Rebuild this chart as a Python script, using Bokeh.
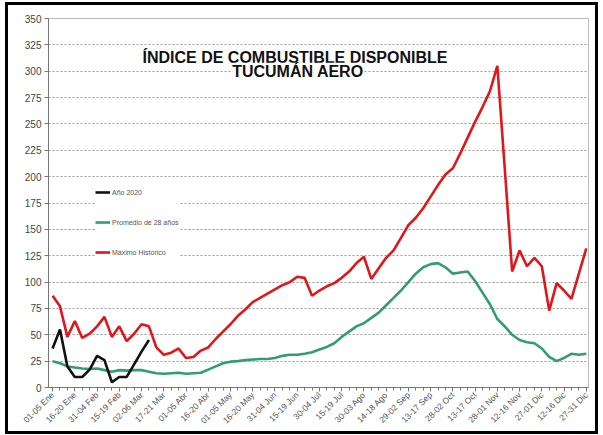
from math import pi
from bokeh.plotting import figure
from bokeh.models import Range1d, FixedTicker, Legend, LegendItem, Label
from bokeh.embed import file_html
from bokeh.resources import INLINE

# ---- data (pentads of the year, 73 points) ----
tick_labels = ["01-05 Ene", "16-20 Ene", "31-04 Feb", "15-19 Feb", "02-06 Mar",
               "17-21 Mar", "01-05 Abr", "16-20 Abr", "01-05 May", "16-20 May",
               "31-04 Jun", "15-19 Jun", "30-04 Jul", "15-19 Jul", "30-03 Ago",
               "14-18 Ago", "29-02 Sep", "13-17 Sep", "28-02 Oct", "13-17 Oct",
               "28-01 Nov", "12-16 Nov", "27-01 Dic", "12-16 Dic", "27-31 Dic"]

maximo_historico = [87, 77, 48, 63, 47, 51, 58, 67, 48, 58, 44, 51, 60, 58, 38, 31, 33, 37,
                    28, 29, 35, 38, 46, 53, 60, 68, 74, 81, 85, 89, 93, 97, 100, 105, 104, 87,
                    92, 96, 99, 104, 110, 118, 124, 103, 113, 123, 130, 142, 154, 161, 170, 181,
                    192, 202, 208, 222, 237, 252, 266, 281, 305, 208, 110, 130, 115, 123, 115,
                    73, 99, 92, 84, 108, 132]

promedio_28 = [25, 23, 20, 19, 18, 17.5, 18, 16.5, 15, 16.5, 16, 16.5, 16.5, 15, 13.5, 13,
               13.5, 14, 13, 13.5, 14, 17, 20, 23, 24.5, 25, 26, 26.5, 27, 27, 28, 30, 31, 31,
               32, 33.5, 36, 38.5, 42, 48, 53, 58, 61, 66, 71, 78, 85, 92, 100, 108, 114, 117,
               118, 114, 108, 109, 110, 101, 90, 79, 65, 58, 50, 45, 43, 42, 37, 29, 25, 28,
               32, 31, 32]

anio_2020 = [37, 55, 20, 10, 10, 17, 30, 26, 5, 10, 10, 22, 34, 45]

x_all = list(range(len(maximo_historico)))
x_2020 = list(range(len(anio_2020)))

# ---- figure ----
p = figure(frame_width=540, frame_height=369,
           min_border_left=40, min_border_right=7, min_border_top=13, min_border_bottom=43,
           x_range=Range1d(-0.55, 72.3), y_range=Range1d(0, 350),
           output_backend="svg", toolbar_location=None)
p.styles = {"border": "3px solid black", "margin-left": "5px", "margin-top": "2px"}
p.background_fill_color = "white"
p.border_fill_color = "white"
p.outline_line_color = "#bbbbbb"

FONT = "Liberation Sans"

p.xgrid.visible = False
p.ygrid.grid_line_color = "#9a9a9a"
p.ygrid.grid_line_dash = "2 2"
p.ygrid.grid_line_width = 1

p.yaxis.ticker = FixedTicker(ticks=list(range(0, 351, 25)))
p.yaxis.major_label_text_font = FONT
p.yaxis.major_label_text_font_size = "10px"
p.yaxis.major_label_text_color = "#444444"
p.yaxis.major_tick_in = 0
p.yaxis.major_tick_out = 4
p.yaxis.minor_tick_line_color = None
p.yaxis.axis_line_color = "#777777"
p.yaxis.major_tick_line_color = "#777777"
p.yaxis.major_label_standoff = 3

major = list(range(0, 73, 3))
p.xaxis.ticker = FixedTicker(ticks=major, minor_ticks=x_all)
p.xaxis.major_label_overrides = {t: lab for t, lab in zip(major, tick_labels)}
p.xaxis.major_label_orientation = pi / 4
p.xaxis.major_label_text_font = FONT
p.xaxis.major_label_text_font_size = "8.5px"
p.xaxis.major_label_text_color = "#555555"
p.xaxis.major_tick_in = 0
p.xaxis.major_tick_out = 4
p.xaxis.minor_tick_in = 0
p.xaxis.minor_tick_out = 3
p.xaxis.axis_line_color = "#777777"
p.xaxis.major_tick_line_color = "#777777"
p.xaxis.minor_tick_line_color = "#777777"
p.xaxis.major_label_standoff = 2

r_max = p.line(x_all, maximo_historico, line_color="#e0161b", line_width=2.6)
r_prom = p.line(x_all, promedio_28, line_color="#339d72", line_width=2.6)
r_2020 = p.line(x_2020, anio_2020, line_color="#111111", line_width=2.6)

legend = Legend(items=[LegendItem(label="Año 2020", renderers=[r_2020]),
                       LegendItem(label="Promedio de 28 años", renderers=[r_prom]),
                       LegendItem(label="Máximo Histórico", renderers=[r_max])],
                location=(47, 125), padding=10, spacing=10, margin=0,
                label_height=20, glyph_height=20, glyph_width=15, label_standoff=2,
                label_text_font=FONT, label_text_font_size="7px",
                label_text_color="#555555",
                border_line_color=None, background_fill_color="white",
                background_fill_alpha=1.0)
p.add_layout(legend)

t1 = Label(x=33.0, y=304.5, text="ÍNDICE DE COMBUSTIBLE  DISPONIBLE",
           text_align="center", text_baseline="bottom",
           text_font=FONT, text_font_style="bold", text_font_size="16px",
           text_color="#111111")
t2 = Label(x=33.1, y=292.0, text="TUCUMÁN AERO",
           text_align="center", text_baseline="bottom",
           text_font=FONT, text_font_style="bold", text_font_size="16px",
           text_color="#111111", background_fill_color="white")
p.add_layout(t1)
p.add_layout(t2)

open("out.html", "w").write(file_html(p, INLINE))
